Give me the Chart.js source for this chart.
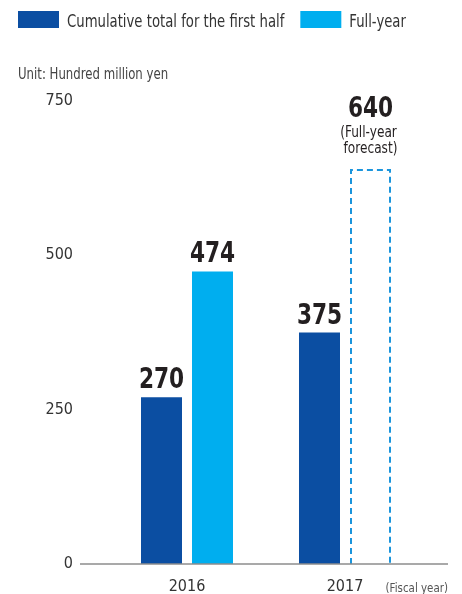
<!DOCTYPE html>
<html>
<head>
<meta charset="utf-8">
<script src="https://cdn.jsdelivr.net/npm/chart.js@4"></script>
<style>
  html, body { margin: 0; padding: 0; background: #fff; }
  #wrap { width: 462px; height: 594px; }
</style>
</head>
<body>
<div id="wrap"><canvas id="chart" width="462" height="594"></canvas></div>
<script>
// values (hundred million yen)
const years = ["2016", "2017"];
const firstHalf = [270, 375];
const fullYear = [474, 640];
const isForecast = [false, true];
const yTicks = [0, 250, 500, 750];
const seriesNames = ["Cumulative total for the first half", "Full-year"];
const unitLabel = "Unit: Hundred million yen";
const forecastNote = ["(Full-year", "forecast)"];
const axisNote = "(Fiscal year)";

const colors = ["#0b4ea2", "#00aeef"];
const dashColor = "#1b95dc";
const narrow = "'DejaVu Sans Condensed', 'DejaVu Sans', sans-serif";

const ctx = document.getElementById("chart");

// the reference uses a condensed face, so squeeze text a little sideways
function squeezed(c, text, x, y, font, sx, align) {
  c.save();
  c.font = font;
  c.textAlign = align || "left";
  c.textBaseline = "alphabetic";
  const w = c.measureText(text).width * sx;
  c.translate(x, y);
  c.scale(sx, 1);
  c.fillText(text, 0, 0);
  c.restore();
  return w;
}

const decor = {
  id: "decor",
  afterDatasetsDraw(chart) {
    const { ctx, chartArea } = chart;
    const base = chart.scales.y.getPixelForValue(0);
    ctx.save();

    // dashed outline for the forecast
    chart.getDatasetMeta(1).data.forEach((bar, i) => {
      if (!isForecast[i]) return;
      const { x, y, width } = bar.getProps(["x", "y", "width"], true);
      const l = x - width / 2 + 1, r = x + width / 2 - 1;
      ctx.strokeStyle = dashColor;
      ctx.lineWidth = 2;
      ctx.setLineDash([6, 4]);
      ctx.beginPath();
      ctx.moveTo(l, base);
      ctx.lineTo(l, y + 1);
      ctx.lineTo(r, y + 1);
      ctx.lineTo(r, base);
      ctx.stroke();
    });
    ctx.setLineDash([]);

    // baseline runs past the plot on both sides
    ctx.strokeStyle = "#8c8c8c";
    ctx.lineWidth = 1.5;
    ctx.beginPath();
    ctx.moveTo(chartArea.left - 28, base);
    ctx.lineTo(chartArea.right + 24, base);
    ctx.stroke();

    // value labels
    ctx.fillStyle = "#231f20";
    chart.data.datasets.forEach((ds, di) => {
      chart.getDatasetMeta(di).data.forEach((bar, i) => {
        const v = ds.data[i];
        if (v == null) return;
        const { x, y } = bar.getProps(["x", "y"], true);
        if (di === 1 && isForecast[i]) {
          squeezed(ctx, String(v), x, y - 52, "bold 29px " + narrow, 0.83, "center");
          squeezed(ctx, forecastNote[0], x - 2, y - 32, "15px " + narrow, 0.9, "center");
          squeezed(ctx, forecastNote[1], x, y - 16, "15px " + narrow, 0.9, "center");
        } else {
          squeezed(ctx, String(v), x, y - 9, "bold 29px " + narrow, 0.83, "center");
        }
      });
    });

    // legend
    let lx = 18;
    chart.data.datasets.forEach((ds) => {
      const bg = Array.isArray(ds.backgroundColor) ? ds.backgroundColor[0] : ds.backgroundColor;
      ctx.fillStyle = bg;
      ctx.fillRect(lx, 11, 41, 17);
      ctx.fillStyle = "#333";
      const w = squeezed(ctx, ds.label, lx + 49, 26.5, "17px " + narrow, 0.865, "left");
      lx += 49 + w + 16;
    });

    ctx.fillStyle = "#444";
    squeezed(ctx, unitLabel, 18, 79, "15px " + narrow, 0.87, "left");

    ctx.fillStyle = "#555";
    squeezed(ctx, axisNote, chartArea.right + 24, base + 28, "13px " + narrow, 0.88, "right");
    ctx.restore();
  }
};

new Chart(ctx, {
  type: "bar",
  data: {
    labels: years,
    datasets: [
      {
        label: seriesNames[0],
        data: firstHalf,
        backgroundColor: colors[0],
        borderWidth: 0,
      },
      {
        label: seriesNames[1],
        data: fullYear,
        backgroundColor: isForecast.map((f) => (f ? "rgba(0,0,0,0)" : colors[1])),
        borderWidth: 0,
      },
    ],
  },
  options: {
    responsive: false,
    animation: false,
    categoryPercentage: 0.6456,
    barPercentage: 0.8039,
    layout: { padding: { left: 2, right: 38, top: 101, bottom: 0 } },
    plugins: {
      tooltip: { enabled: false },
      legend: { display: false },
    },
    scales: {
      x: {
        // hidden tick marks only serve as the gap above the year labels
        grid: { display: false, drawTicks: true, tickLength: 13 },
        border: { display: false },
        ticks: { color: "#333", padding: 0, font: { family: narrow, size: 16 } },
        afterFit: (scale) => {
          scale.height = 30;
        },
      },
      y: {
        min: 0,
        max: 750,
        grid: { display: false, drawTicks: true, tickLength: 35 },
        border: { display: false },
        ticks: { stepSize: 250, color: "#333", padding: 0, font: { family: narrow, size: 16 } },
        afterBuildTicks: (scale) => {
          scale.ticks = yTicks.map((v) => ({ value: v }));
        },
        afterFit: (scale) => {
          scale.width = 106;
        },
      },
    },
  },
  plugins: [decor],
});
</script>
</body>
</html>
